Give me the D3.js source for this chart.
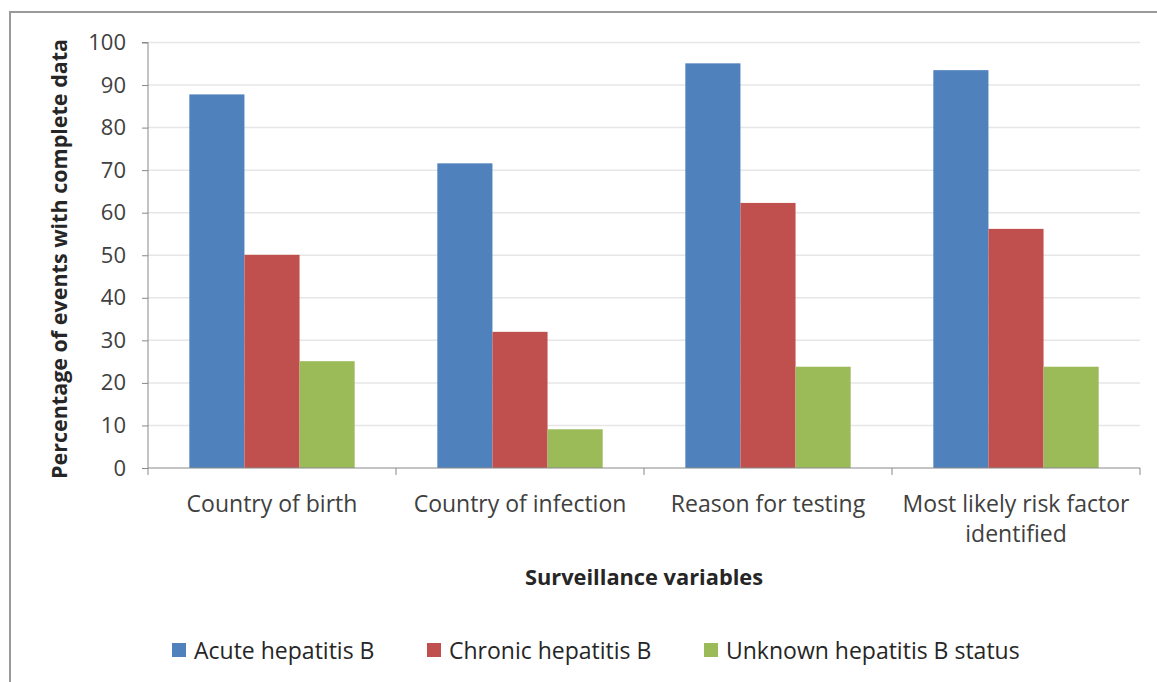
<!DOCTYPE html>
<html>
<head>
<meta charset="utf-8">
<script src="https://cdnjs.cloudflare.com/ajax/libs/d3/7.8.5/d3.min.js"></script>
<style>
body { margin: 0; background: #fff; }
text { font-family: "Open Sans", Lato, sans-serif; fill: #333; }
</style>
</head>
<body>
<div id="chart"></div>
<script>
var categories = ['Country of birth', 'Country of infection', 'Reason for testing', 'Most likely risk factor identified'];
var seriesNames = ['Acute hepatitis B', 'Chronic hepatitis B', 'Unknown hepatitis B status'];
var acute = [87.8, 71.6, 95.1, 93.5];
var chronic = [50.1, 32.0, 62.3, 56.2];
var unknown = [25.1, 9.1, 23.8, 23.8];
var colors = ['#4F81BD', '#C0504D', '#9BBB59'];
var yTicks = [0, 10, 20, 30, 40, 50, 60, 70, 80, 90, 100];

window.onload = function(){

	var svg = d3.select('#chart').append('svg').attr('width', 1157).attr('height', 682);

	// frame (only top and left edges visible)
	svg.append('path').attr('d', 'M10,682 L10,12 L1157,12')
		.attr('fill', 'none').attr('stroke', '#9a9a9a').attr('stroke-width', 2);

	var left = 148, right = 1140, top = 42.5, bottom = 468;

	var x = d3.scaleBand().domain(categories).range([left, right]).paddingInner(0).paddingOuter(0);
	var y = d3.scaleLinear().domain([0, 100]).range([bottom, top]);
	var inner = d3.scaleBand().domain([0, 1, 2]).range([0, x.bandwidth()]).paddingInner(0).paddingOuter(0.75);

	// grid
	svg.append('g').selectAll('line').data(yTicks.slice(1)).enter().append('line')
		.attr('x1', left).attr('x2', right)
		.attr('y1', function(d){ return y(d); }).attr('y2', function(d){ return y(d); })
		.attr('stroke', '#e6e6e6').attr('stroke-width', 1.5);

	// bars
	var series = [acute, chronic, unknown];
	var groups = svg.append('g').selectAll('g').data(series).enter().append('g')
		.attr('fill', function(d, i){ return colors[i]; });

	groups.selectAll('rect').data(function(d, i){
		return d.map(function(v, j){ return {s: i, c: categories[j], v: v}; });
	}).enter().append('rect')
		.attr('x', function(d){ return x(d.c) + inner(d.s); })
		.attr('width', inner.bandwidth())
		.attr('y', function(d){ return y(d.v); })
		.attr('height', function(d){ return y(0) - y(d.v); });

	// y axis
	var yAxis = svg.append('g').attr('transform', 'translate(' + left + ',0)')
		.call(d3.axisLeft(y).tickValues(yTicks).tickSize(6).tickPadding(16));
	yAxis.selectAll('text').attr('font-size', 22).style('fill', '#404040')
		.style('font-family', '"Open Sans", sans-serif');
	yAxis.selectAll('line').attr('stroke', '#888');
	yAxis.select('.domain').attr('stroke', '#888').attr('d', 'M-6,' + top + 'H0V' + bottom);

	// x axis
	var xAxis = svg.append('g').attr('transform', 'translate(0,' + bottom + ')');
	xAxis.append('line').attr('x1', left).attr('x2', right).attr('stroke', '#888');
	xAxis.selectAll('.tk').data(categories.concat(['end'])).enter().append('line')
		.attr('x1', function(d, i){ return left + i * x.bandwidth(); })
		.attr('x2', function(d, i){ return left + i * x.bandwidth(); })
		.attr('y1', 0).attr('y2', 7).attr('stroke', '#888');

	var labelLines = [['Country of birth'], ['Country of infection'], ['Reason for testing'], ['Most likely risk factor', 'identified']];
	xAxis.selectAll('.lbl').data(categories).enter().append('text')
		.attr('text-anchor', 'middle').attr('font-size', 23).style('fill', '#404040')
		.attr('x', function(d){ return x(d) + x.bandwidth() / 2; })
		.attr('y', 44)
		.each(function(d, i){
			var t = d3.select(this);
			labelLines[i].forEach(function(s, k){
				t.append('tspan').attr('x', x(d) + x.bandwidth() / 2).attr('dy', k === 0 ? 0 : 30).text(s);
			});
		});

	// axis titles
	svg.append('text').attr('transform', 'translate(67,259) rotate(-90)')
		.attr('text-anchor', 'middle').attr('font-size', 21.5).attr('font-weight', 'bold').style('fill', '#262626')
		.text('Percentage of events with complete data');
	svg.append('text').attr('x', 644).attr('y', 585)
		.attr('text-anchor', 'middle').attr('font-size', 21.8).attr('font-weight', 'bold').style('fill', '#262626')
		.text('Surveillance variables');

	// legend
	var legendX = [172, 427, 704];
	var legend = svg.append('g').selectAll('g').data(seriesNames).enter().append('g')
		.attr('transform', function(d, i){ return 'translate(' + legendX[i] + ',643)'; });
	legend.append('rect').attr('width', 14).attr('height', 14)
		.attr('fill', function(d, i){ return colors[i]; });
	legend.append('text').attr('x', 22).attr('y', 16).attr('font-size', 23).style('fill', '#262626')
		.text(function(d){ return d; });
}
</script>
</body>
</html>
